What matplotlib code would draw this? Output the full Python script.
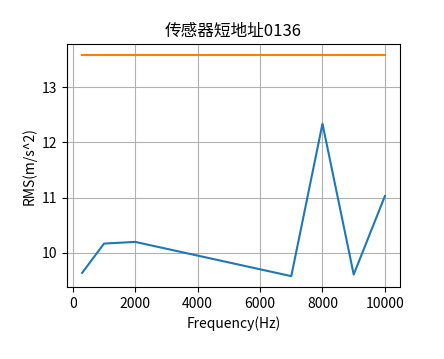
import matplotlib
matplotlib.use('Agg')
import matplotlib.pyplot as plt

plt.rcParams['font.family'] = ['Noto Sans CJK SC', 'DejaVu Sans']
plt.rcParams['axes.unicode_minus'] = False

freq = [300, 1000, 2000, 7000, 8000, 9000, 10000]
rms = [9.64, 10.17, 10.20, 9.58, 12.34, 9.61, 11.03]
limit_x = [300, 10000]
limit_y = [13.58, 13.58]

fig = plt.figure(figsize=(4.44, 3.59), dpi=100)
ax = fig.add_axes([0.151, 0.2, 0.75, 0.677])

ax.plot(freq, rms, color='#1f77b4')
ax.plot(limit_x, limit_y, color='#ff7f0e')
ax.grid(True)
ax.set_title('传感器短地址0136', fontsize=12)
ax.set_xlabel('Frequency(Hz)')
ax.set_ylabel('RMS(m/s^2)')
ax.set_xticks([0, 2000, 4000, 6000, 8000, 10000])
ax.set_yticks([10, 11, 12, 13])

fig.savefig('out.png', dpi=100)
